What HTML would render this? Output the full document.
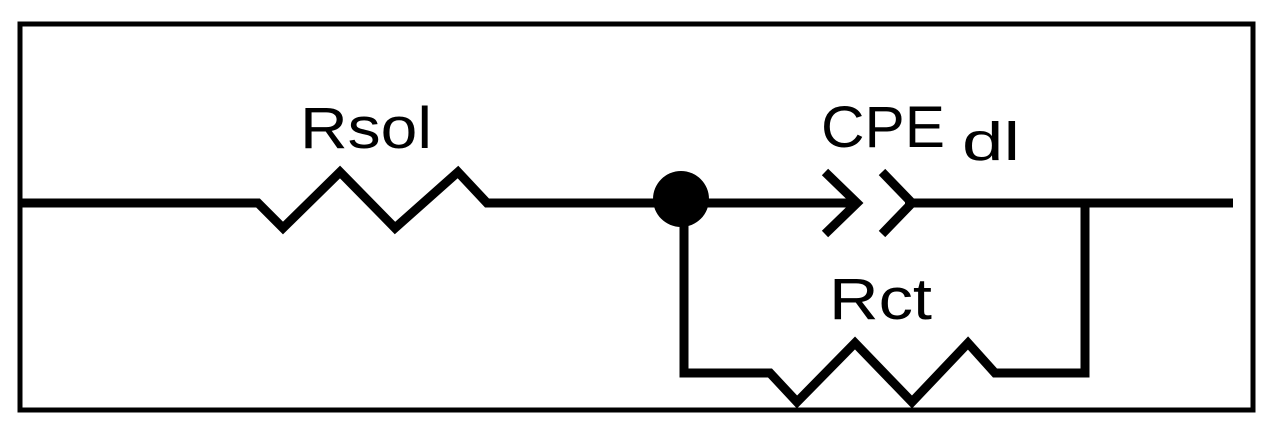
<!DOCTYPE html>
<html><head><style>
html,body{margin:0;padding:0;background:#fff;}
svg{display:block;}
text{font-family:"Liberation Sans",sans-serif;fill:#000;}
</style></head><body>
<svg width="1276" height="436" viewBox="0 0 1276 436">
<rect x="20" y="24" width="1233" height="386" fill="none" stroke="#000" stroke-width="5"/>
<g fill="none" stroke="#000" stroke-width="9" stroke-linejoin="miter" stroke-linecap="butt">
<polyline points="18,203 258,203 283,228 340,172 395,228 458,172 487,203 681,203"/>
<polyline points="681,203 855,203"/>
<polyline points="825,172 857,203 825,234"/>
<polyline points="882,172 912,203 882,234"/>
<polyline points="905,203 1233,203"/>
<polyline points="1085,203 1085,373 995,373 968,343 912,402 855,343 797,402 770,373 684,373 684,200"/>
</g>
<circle cx="681" cy="199" r="28" fill="#000"/>
<text x="300" y="148" font-size="58" textLength="132" lengthAdjust="spacingAndGlyphs">Rsol</text>
<text x="821" y="147" font-size="58" textLength="124" lengthAdjust="spacingAndGlyphs">CPE</text>
<text x="962" y="160" font-size="54" textLength="58" lengthAdjust="spacingAndGlyphs">dl</text>
<text x="829" y="319" font-size="58" textLength="103" lengthAdjust="spacingAndGlyphs">Rct</text>
</svg>
</body></html>
